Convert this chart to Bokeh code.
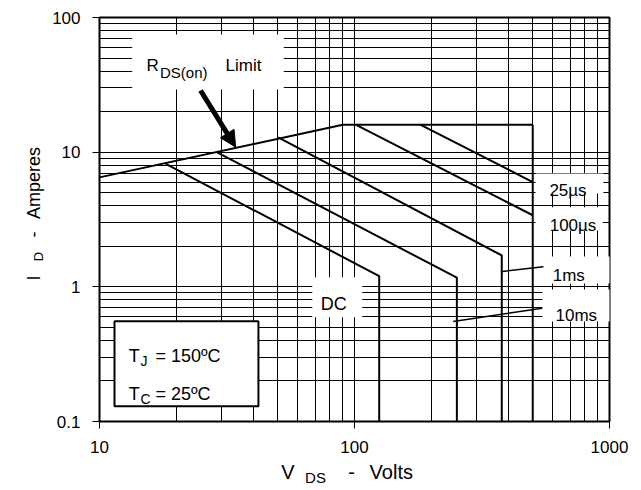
from math import pi
from bokeh.plotting import figure
from bokeh.models import FixedTicker, Label, BoxAnnotation, Arrow, NormalHead
from bokeh.core.properties import value
from bokeh.embed import file_html
from bokeh.resources import INLINE

# ---------------- data ----------------
x_ticks = [10, 100, 1000]
x_tick_labels = ["10", "100", "1000"]
x_minor = [20, 30, 40, 50, 60, 70, 80, 90, 200, 300, 400, 500, 600, 700, 800, 900]
y_ticks = [0.1, 1, 10, 100]
y_tick_labels = ["0.1", "1", "10", "100"]
y_minor = [0.2, 0.3, 0.4, 0.5, 0.6, 0.7, 0.8, 0.9,
           2, 3, 4, 5, 6, 7, 8, 9,
           20, 30, 40, 50, 60, 70, 80, 90]

# RDS(on) limit line
rds_v = [10, 90]
rds_i = [6.5, 16]
# package current limit
ilim_v = [90, 500]
ilim_i = [16, 16]
# breakdown voltage limit
bv_v = [500, 500]
bv_i = [16, 0.1]
# pulse curves
t25_v = [181, 500]
t25_i = [16, 6.0]
t100_v = [101, 500]
t100_i = [16, 3.4]
t1m_v = [50.2, 378, 378]
t1m_i = [12.9, 1.71, 0.1]
t10m_v = [28.8, 252, 252]
t10m_i = [10.0, 1.17, 0.1]
dc_v = [18.2, 125, 125]
dc_i = [8.2, 1.2, 0.1]

FONT = "Liberation Sans"

p = figure(width=635, height=486, x_axis_type="log", y_axis_type="log",
           x_range=(10, 1000), y_range=(0.1, 100),
           output_backend="svg", toolbar_location=None,
           min_border_left=99, min_border_right=26,
           min_border_top=17, min_border_bottom=65)
p.outline_line_color = "black"
p.outline_line_width = 2
p.background_fill_color = "white"
p.border_fill_color = "white"

for ax, ticks, minor, labels in ((p.xaxis[0], x_ticks, x_minor, x_tick_labels),
                                 (p.yaxis[0], y_ticks, y_minor, y_tick_labels)):
    ax.ticker = FixedTicker(ticks=ticks, minor_ticks=minor)
    ax.major_label_overrides = dict(zip(ticks, labels))
    ax.axis_line_color = None
    ax.major_tick_in = 0
    ax.major_tick_out = 7
    ax.major_tick_line_color = "black"
    ax.major_tick_line_width = 1
    ax.minor_tick_line_color = None
    ax.major_label_text_font = FONT
    ax.major_label_text_font_size = "17px"
    ax.major_label_text_color = "black"
p.yaxis.major_label_standoff = 12
p.xaxis.major_label_standoff = 12

for g, ticks, minor in ((p.xgrid[0], x_ticks, x_minor), (p.ygrid[0], y_ticks, y_minor)):
    g.ticker = FixedTicker(ticks=ticks, minor_ticks=minor)
    g.grid_line_color = "black"
    g.grid_line_width = 1
    g.minor_grid_line_color = "black"
    g.minor_grid_line_width = 1

# curves
for xs, ys in ((rds_v, rds_i), (ilim_v, ilim_i), (bv_v, bv_i), (t25_v, t25_i),
               (t100_v, t100_i), (t1m_v, t1m_i), (t10m_v, t10m_i), (dc_v, dc_i)):
    p.line(xs, ys, line_color="black", line_width=2)

# leader lines for labels
p.line([380.5, 561], [1.30, 1.416], line_color="black", line_width=1.5)
p.line([243.8, 544.5], [0.553, 0.694], line_color="black", line_width=1.5)

# white label backgrounds
for l, r, t, b in ((13.43, 52.8, 74.8, 29.2), (512.7, 947, 6.94, 4.93),
                   (512.7, 940, 3.90, 2.62), (551, 1056, 1.68, 1.059),
                   (546, 1056, 0.955, 0.553), (68.3, 107.2, 1.179, 0.595)):
    p.add_layout(BoxAnnotation(left=l, right=r, top=t, bottom=b,
                               fill_color="white", fill_alpha=1, line_color=None))
# conditions box
p.add_layout(BoxAnnotation(left=11.45, right=42.0, top=0.5556, bottom=0.13,
                           fill_color="white", fill_alpha=1,
                           line_color="black", line_width=2, line_alpha=1))


def lab(x, y, text, size, xo=0, yo=0, align="center", angle=0):
    p.add_layout(Label(x=x, y=y, x_offset=xo, y_offset=yo, text=text,
                       text_font=FONT, text_font_size=f"{size}px",
                       text_color="black", text_align=align,
                       text_baseline="alphabetic", angle=angle))


def gtext(x, y, text, size, xo=0, yo=0, align="center", angle=0):
    # glyph text on the overlay level so it may sit outside the frame
    p.text(x=[x], y=[y], text=[text], x_offset=xo, y_offset=-yo, angle=angle,
           text_font=value(FONT), text_font_size=f"{size}px",
           text_color="black", text_align=align,
           text_baseline="alphabetic", level="overlay")


# RDS(on) Limit annotation (anchor: x=10, y=100)
lab(10, 100, "R", 17, 47, -48, "left")
lab(10, 100, "DS(on)", 15, 60.5, -54.7, "left")
lab(10, 100, "Limit", 17, 144, -48)
p.add_layout(Arrow(end=NormalHead(size=16, fill_color="black", line_color="black"),
                   x_start=24.9, y_start=28.7, x_end=34.2, y_end=10.9,
                   line_color="black", line_width=5))

# curve labels
lab(1000, 10, "25\u00b5s", 17, -41.5, -38.3)
lab(1000, 10, "100\u00b5s", 17, -36.5, -73.3)
lab(1000, 1, "1ms", 17, -40.7, 11.3)
lab(1000, 1, "10ms", 17, -33.2, -28.7)
lab(100, 1, "DC", 18, -20.7, -17)

# conditions text (anchor: x=10, y=0.1)
lab(10, 0.1, "T", 18, 29.3, 66, "left")
lab(10, 0.1, "J", 14, 41, 61, "left")
lab(10, 0.1, "= 150\u00baC", 18, 56, 66, "left")
lab(10, 0.1, "T", 18, 29.3, 27.7, "left")
lab(10, 0.1, "C", 14, 41, 22.5, "left")
lab(10, 0.1, "= 25\u00baC", 18, 56, 27.7, "left")

# axis titles (outside the frame)
gtext(100, 0.1, "V", 20, -66.5, -50.7)
gtext(100, 0.1, "DS", 15, -39, -55.7)
gtext(100, 0.1, "-", 20, -3, -50.7)
gtext(100, 0.1, "Volts", 20, 36.8, -50.7)

gtext(10, 1, "I", 18, -65.7, 8.8, angle=pi / 2)
gtext(10, 1, "D", 13, -61.5, 30.3, angle=pi / 2)
gtext(10, 1, "-", 18, -65.7, 52.3, angle=pi / 2)
gtext(10, 1, "Amperes", 18, -65.7, 103.8, angle=pi / 2)

open("out.html", "w").write(file_html(p, INLINE))
